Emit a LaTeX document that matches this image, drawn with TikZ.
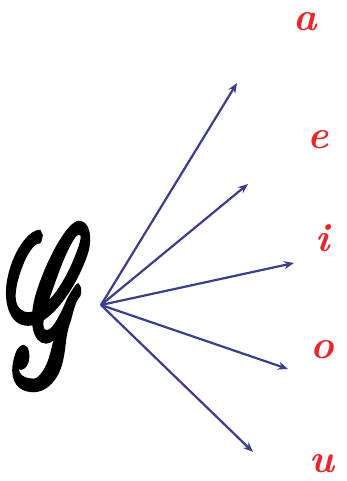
\documentclass[tikz,border=0pt]{standalone}
\usepackage{mathrsfs}
\usepackage{graphicx}
\usetikzlibrary{arrows.meta, positioning}
\definecolor{vowelred}{RGB}{232,38,43}
\definecolor{arrowblue}{RGB}{58,62,140}

\begin{document}
\begin{tikzpicture}[
    x=1pt, y=-1pt,
    letter/.style={text=black, inner sep=0pt, font=\bfseries},
    vowel/.style={text=vowelred, inner sep=0pt, font=\fontsize{40}{40}\selectfont\bfseries\itshape},
    arrow/.style={-{Stealth[length=10pt, width=8pt]}, line width=2.2pt, draw=arrowblue}
]
    \useasboundingbox (0,0) rectangle (347,481);

    \node[letter] (g) at (50,306) {\scalebox{11}[22]{\special{pdf:literal direct 2 Tr 0.4 w}$\mathscr{G}$\special{pdf:literal direct 0 Tr}}};
    \coordinate (src) at (101,305);

    \node[vowel] (a) at (305,22) {a};
    \node[vowel] (e) at (318,140) {e};
    \node[vowel] (i) at (323,238) {i};
    \node[vowel] (o) at (322,350) {o};
    \node[vowel] (u) at (322,464) {u};

    \coordinate (ta) at (237,83);
    \coordinate (te) at (248,184);
    \coordinate (ti) at (294,263);
    \coordinate (to) at (288,369);
    \coordinate (tu) at (253,452);

    \draw[arrow] (src) -- (ta);
    \draw[arrow] (src) -- (te);
    \draw[arrow] (src) -- (ti);
    \draw[arrow] (src) -- (to);
    \draw[arrow] (src) -- (tu);
\end{tikzpicture}
\end{document}
